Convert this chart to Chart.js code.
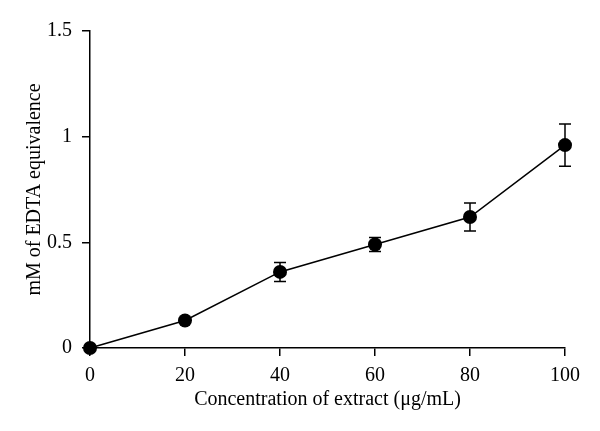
<!DOCTYPE html>
<html>
<head>
<meta charset="utf-8">
<script src="https://cdn.jsdelivr.net/npm/chart.js@4/dist/chart.umd.min.js"></script>
<style>
  html, body { margin: 0; padding: 0; background: #fff; }
  #wrap { width: 600px; height: 431px; }
</style>
</head>
<body>
<div id="wrap"><canvas id="chart" width="600" height="431"></canvas></div>
<script>
// data
const concentrations = [0, 20, 40, 60, 80, 100];
const edtaEquiv = [0, 0.13, 0.36, 0.49, 0.62, 0.96];
const edtaErr = [0, 0, 0.045, 0.033, 0.066, 0.10];
const yTicks = [0, 0.5, 1, 1.5];
const xTitle = 'Concentration of extract (\u03bcg/mL)';
const yTitle = 'mM of EDTA equivalence';

const FONT = "'Liberation Serif', 'DejaVu Serif', serif";

// draws vertical error bars with caps using the chart's own scales
const errorBars = {
  id: 'errorBars',
  beforeDatasetsDraw(chart) {
    const ctx = chart.ctx;
    const xs = chart.scales.x, ys = chart.scales.y;
    ctx.save();
    ctx.strokeStyle = '#000';
    ctx.lineWidth = 1.5;
    concentrations.forEach((c, i) => {
      const e = edtaErr[i];
      if (!e) return;
      const px = xs.getPixelForValue(c);
      const top = ys.getPixelForValue(edtaEquiv[i] + e);
      const bot = ys.getPixelForValue(edtaEquiv[i] - e);
      ctx.beginPath();
      ctx.moveTo(px, top); ctx.lineTo(px, bot);
      ctx.moveTo(px - 6, top); ctx.lineTo(px + 6, top);
      ctx.moveTo(px - 6, bot); ctx.lineTo(px + 6, bot);
      ctx.stroke();
    });
    ctx.restore();
  }
};

new Chart(document.getElementById('chart'), {
  type: 'line',
  data: {
    datasets: [{
      data: concentrations.map((c, i) => ({ x: c, y: edtaEquiv[i] })),
      borderColor: '#000',
      borderWidth: 1.5,
      pointRadius: 7,
      pointBackgroundColor: '#000',
      pointBorderColor: '#000',
      pointBorderWidth: 0,
      tension: 0,
      clip: false
    }]
  },
  options: {
    responsive: false,
    animation: false,
    layout: { padding: { top: 31, right: 35, left: 0, bottom: 0 } },
    plugins: { legend: { display: false }, tooltip: { enabled: false } },
    scales: {
      x: {
        type: 'linear',
        min: 0, max: 100,
        afterFit(scale) { scale.height = 83; },
        ticks: { stepSize: 20, color: '#000', padding: 8, font: { family: FONT, size: 20 } },
        grid: { drawOnChartArea: false, drawTicks: true, tickLength: 8, color: '#000', lineWidth: 1.5 },
        border: { color: '#000', width: 1.5 },
        title: { display: true, text: xTitle, color: '#000', padding: { top: 0, bottom: 19 }, font: { family: FONT, size: 20 } }
      },
      y: {
        min: 0, max: 1.5,
        afterFit(scale) { scale.width = 90; },
        afterBuildTicks(scale) { scale.ticks = yTicks.map(v => ({ value: v })); },
        ticks: { color: '#000', padding: 10, font: { family: FONT, size: 20 }, callback: v => String(v) },
        grid: { drawOnChartArea: false, drawTicks: true, tickLength: 8, color: '#000', lineWidth: 1.5 },
        border: { color: '#000', width: 1.5 },
        title: { display: true, text: yTitle, color: '#000', padding: { top: 23, bottom: 0 }, font: { family: FONT, size: 20 } }
      }
    }
  },
  plugins: [errorBars]
});
</script>
</body>
</html>
